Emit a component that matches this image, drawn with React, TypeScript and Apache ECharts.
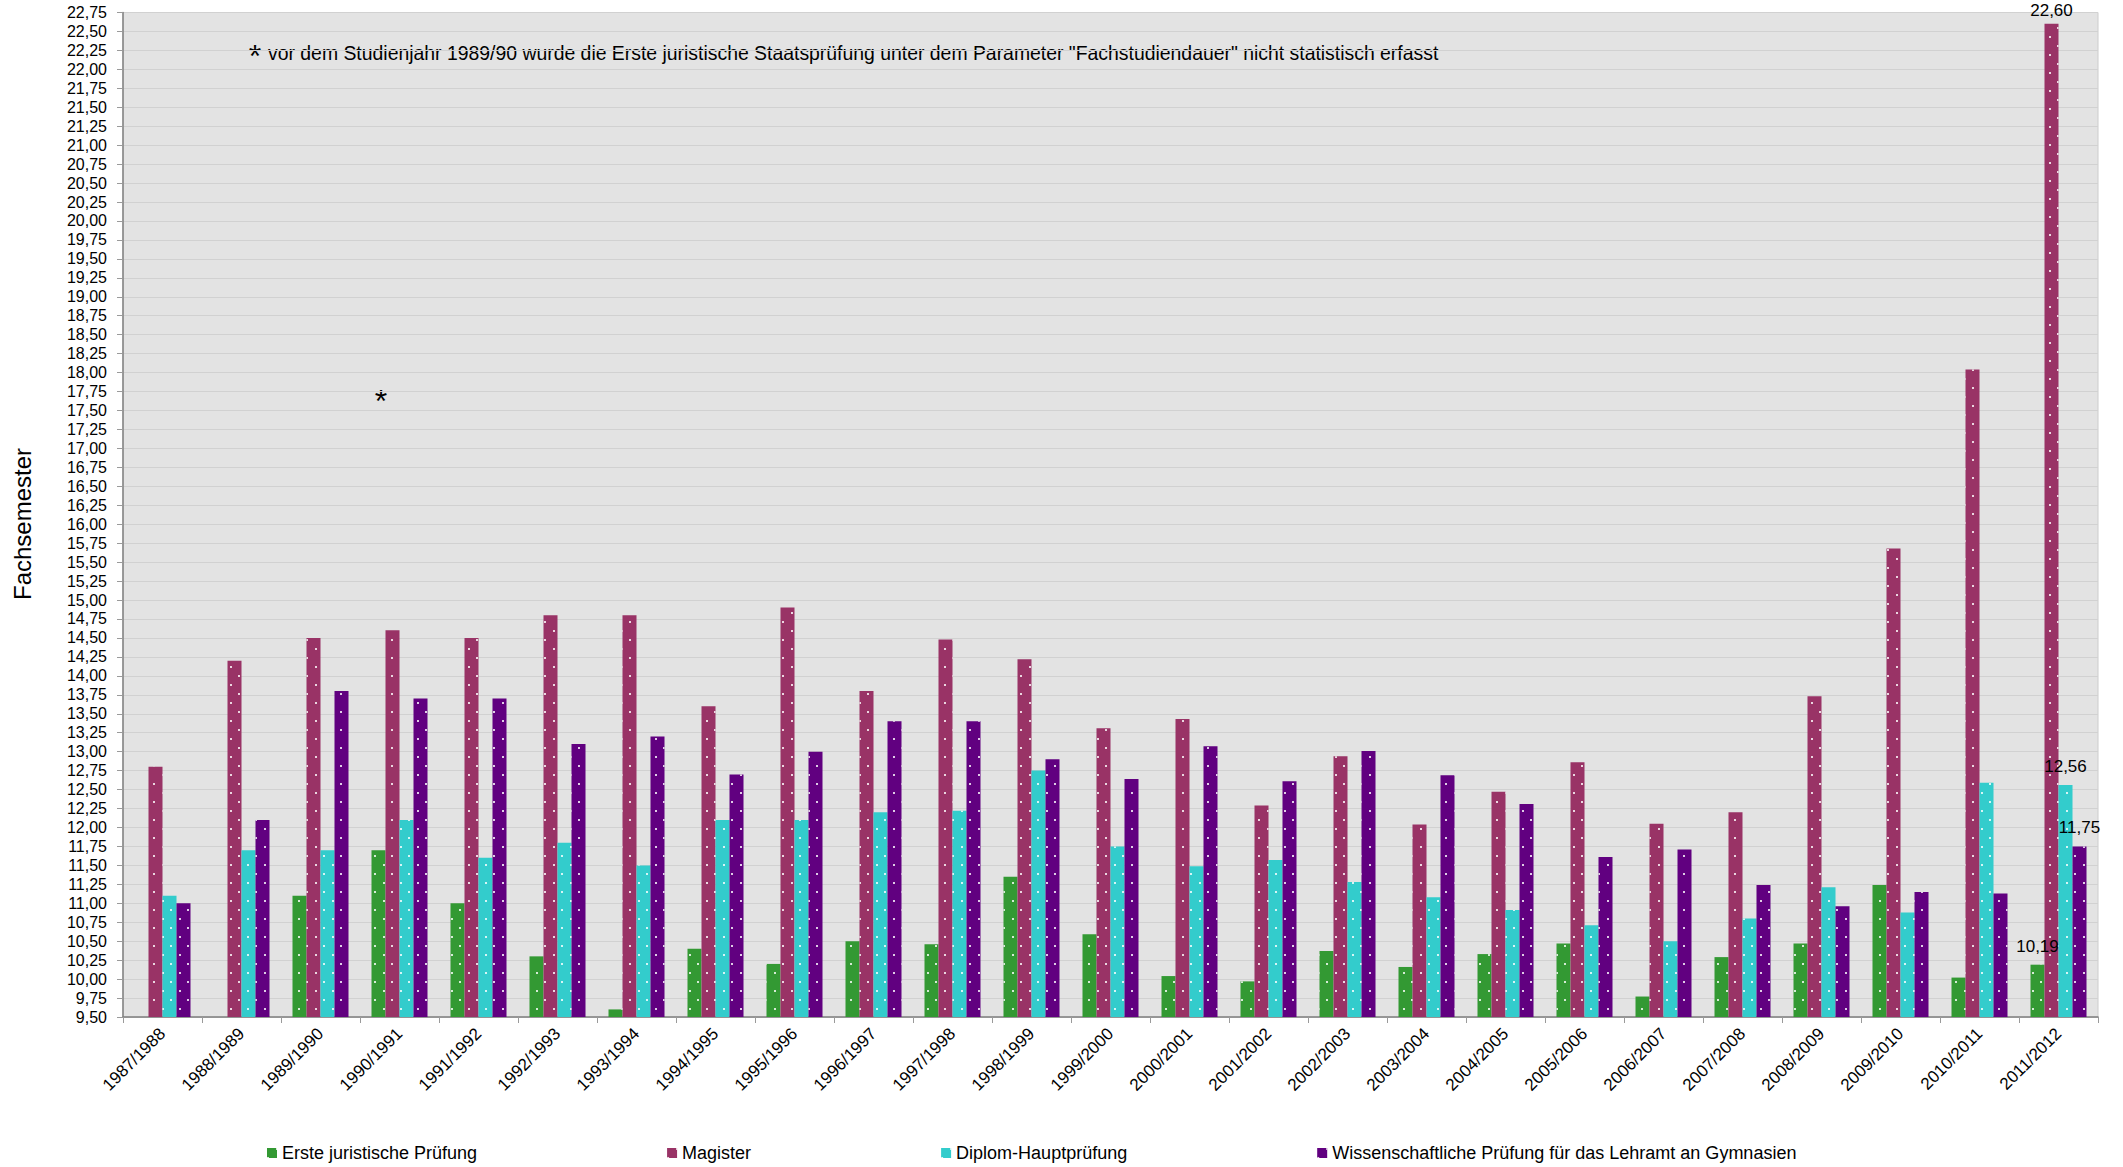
import React, { useEffect, useRef } from "react";
import * as echarts from "echarts";

// Studienjahre (Kategorien der x-Achse)
const studienjahre = [
  "1987/1988", "1988/1989", "1989/1990", "1990/1991", "1991/1992",
  "1992/1993", "1993/1994", "1994/1995", "1995/1996", "1996/1997",
  "1997/1998", "1998/1999", "1999/2000", "2000/2001", "2001/2002",
  "2002/2003", "2003/2004", "2004/2005", "2005/2006", "2006/2007",
  "2007/2008", "2008/2009", "2009/2010", "2010/2011", "2011/2012",
];

// Mittlere Fachstudiendauer in Fachsemestern
const ersteJuristischePruefung = [
  null, null, 11.1, 11.7, 11.0, 10.3, 9.6, 10.4, 10.2, 10.5,
  10.46, 11.35, 10.59, 10.04, 9.97, 10.37, 10.16, 10.33, 10.47, 9.77,
  10.29, 10.47, 11.24, 10.02, 10.19,
];
const magister = [
  12.8, 14.2, 14.5, 14.6, 14.5, 14.8, 14.8, 13.6, 14.9, 13.8,
  14.48, 14.22, 13.31, 13.43, 12.29, 12.94, 12.04, 12.47, 12.86, 12.05,
  12.2, 13.73, 15.68, 18.04, 22.6,
];
const diplomHauptpruefung = [
  11.1, 11.7, 11.7, 12.1, 11.6, 11.8, 11.5, 12.1, 12.1, 12.2,
  12.22, 12.75, 11.75, 11.49, 11.57, 11.28, 11.08, 10.91, 10.71, 10.5,
  10.8, 11.21, 10.88, 12.59, 12.56,
];
const lehramtGymnasien = [
  11.0, 12.1, 13.8, 13.7, 13.7, 13.1, 13.2, 12.7, 13.0, 13.4,
  13.4, 12.9, 12.64, 13.07, 12.61, 13.01, 12.69, 12.31, 11.61, 11.71,
  11.24, 10.96, 11.15, 11.13, 11.75,
];

const seriesNames = [
  "Erste juristische Prüfung",
  "Magister",
  "Diplom-Hauptprüfung",
  "Wissenschaftliche Prüfung für das Lehramt an Gymnasien",
];
const seriesColors = ["#339933", "#993366", "#33cccc", "#610080"];

const FONT = "'Liberation Sans', Arial, sans-serif";
const fmt = (v: number) => v.toFixed(2).replace(".", ",");

// Punktraster auf den Säulen
const dots = {
  symbol: "rect",
  symbolSize: 1,
  color: "rgba(255,255,255,0.8)",
  dashArrayX: [[2, 15], [0, 9, 2, 6]],
  dashArrayY: [2, 7],
  rotation: 0,
};

function withLastLabel(values: (number | null)[]) {
  const last = values.length - 1;
  return values.map((v, i) =>
    i === last && v != null
      ? {
          value: v,
          label: {
            show: true,
            position: "top",
            distance: v > 20 ? 5 : 10,
            fontSize: 17,
            fontFamily: FONT,
            color: "#000",
            formatter: (p: any) => fmt(p.value),
          },
        }
      : v
  );
}

export default function App() {
  const ref = useRef<HTMLDivElement>(null);

  useEffect(() => {
    if (!ref.current) return;
    const chart = echarts.init(ref.current, undefined, { renderer: "svg" });
    const data = [
      ersteJuristischePruefung,
      magister,
      diplomHauptpruefung,
      lehramtGymnasien,
    ];

    chart.setOption({
      animation: false,
      backgroundColor: "#ffffff",
      aria: { enabled: true, decal: { show: true } },
      textStyle: { fontFamily: FONT },
      grid: {
        left: 123,
        right: 25,
        top: 12.5,
        bottom: 150,
        show: true,
        backgroundColor: "#e3e3e3",
        borderColor: "#cccccc",
        borderWidth: 1,
      },
      legend: {
        data: seriesNames,
        left: 267,
        top: 1144,
        padding: 0,
        itemGap: 190,
        itemWidth: 10,
        itemHeight: 10,
        icon: "rect",
        textStyle: { fontSize: 18, fontFamily: FONT, color: "#000" },
      },
      xAxis: {
        type: "category",
        data: studienjahre,
        boundaryGap: true,
        axisLine: { lineStyle: { color: "#808080", width: 1.5 } },
        axisTick: { show: true, length: 6, lineStyle: { color: "#9a9a9a" } },
        axisLabel: {
          rotate: 45,
          interval: 0,
          margin: 14,
          fontSize: 17,
          fontFamily: FONT,
          color: "#000",
        },
        splitLine: { show: false },
      },
      yAxis: {
        type: "value",
        min: 9.5,
        max: 22.75,
        interval: 0.25,
        axisLine: { show: true, lineStyle: { color: "#808080", width: 1.5 } },
        axisTick: { show: true, length: 6, lineStyle: { color: "#9a9a9a" } },
        axisLabel: {
          margin: 16,
          fontSize: 16,
          fontFamily: FONT,
          color: "#000",
          formatter: (v: number) => fmt(v),
        },
        splitLine: { lineStyle: { color: "#d1d1d1", width: 1 } },
      },
      series: data.map((values, i) => ({
        name: seriesNames[i],
        type: "bar",
        data: withLastLabel(values),
        barWidth: 14,
        barGap: "0%",
        itemStyle: { color: seriesColors[i], decal: dots },
      })),
      graphic: [
        {
          type: "text",
          x: 22,
          y: 524,
          rotation: Math.PI / 2,
          style: {
            text: "Fachsemester",
            fontSize: 24,
            fontFamily: FONT,
            fill: "#000",
            align: "center",
            verticalAlign: "middle",
          },
        },
        {
          type: "text",
          x: 255,
          y: 56,
          style: {
            text: "*",
            fontSize: 32,
            fontFamily: FONT,
            fill: "#000",
            align: "center",
            verticalAlign: "middle",
          },
        },
        {
          type: "text",
          x: 268,
          y: 53,
          style: {
            text:
              'vor dem Studienjahr 1989/90 wurde die Erste juristische Staatsprüfung unter dem Parameter "Fachstudiendauer" nicht statistisch erfasst',
            fontSize: 19.4,
            fontFamily: FONT,
            fill: "#000",
            align: "left",
            verticalAlign: "middle",
          },
        },
        {
          type: "text",
          x: 381,
          y: 401,
          style: {
            text: "*",
            fontSize: 32,
            fontFamily: FONT,
            fill: "#000",
            align: "center",
            verticalAlign: "middle",
          },
        },
      ],
    });

    return () => chart.dispose();
  }, []);

  return (
    <div
      ref={ref}
      style={{ position: "fixed", left: 0, top: 0, width: 2123, height: 1167 }}
    />
  );
}
